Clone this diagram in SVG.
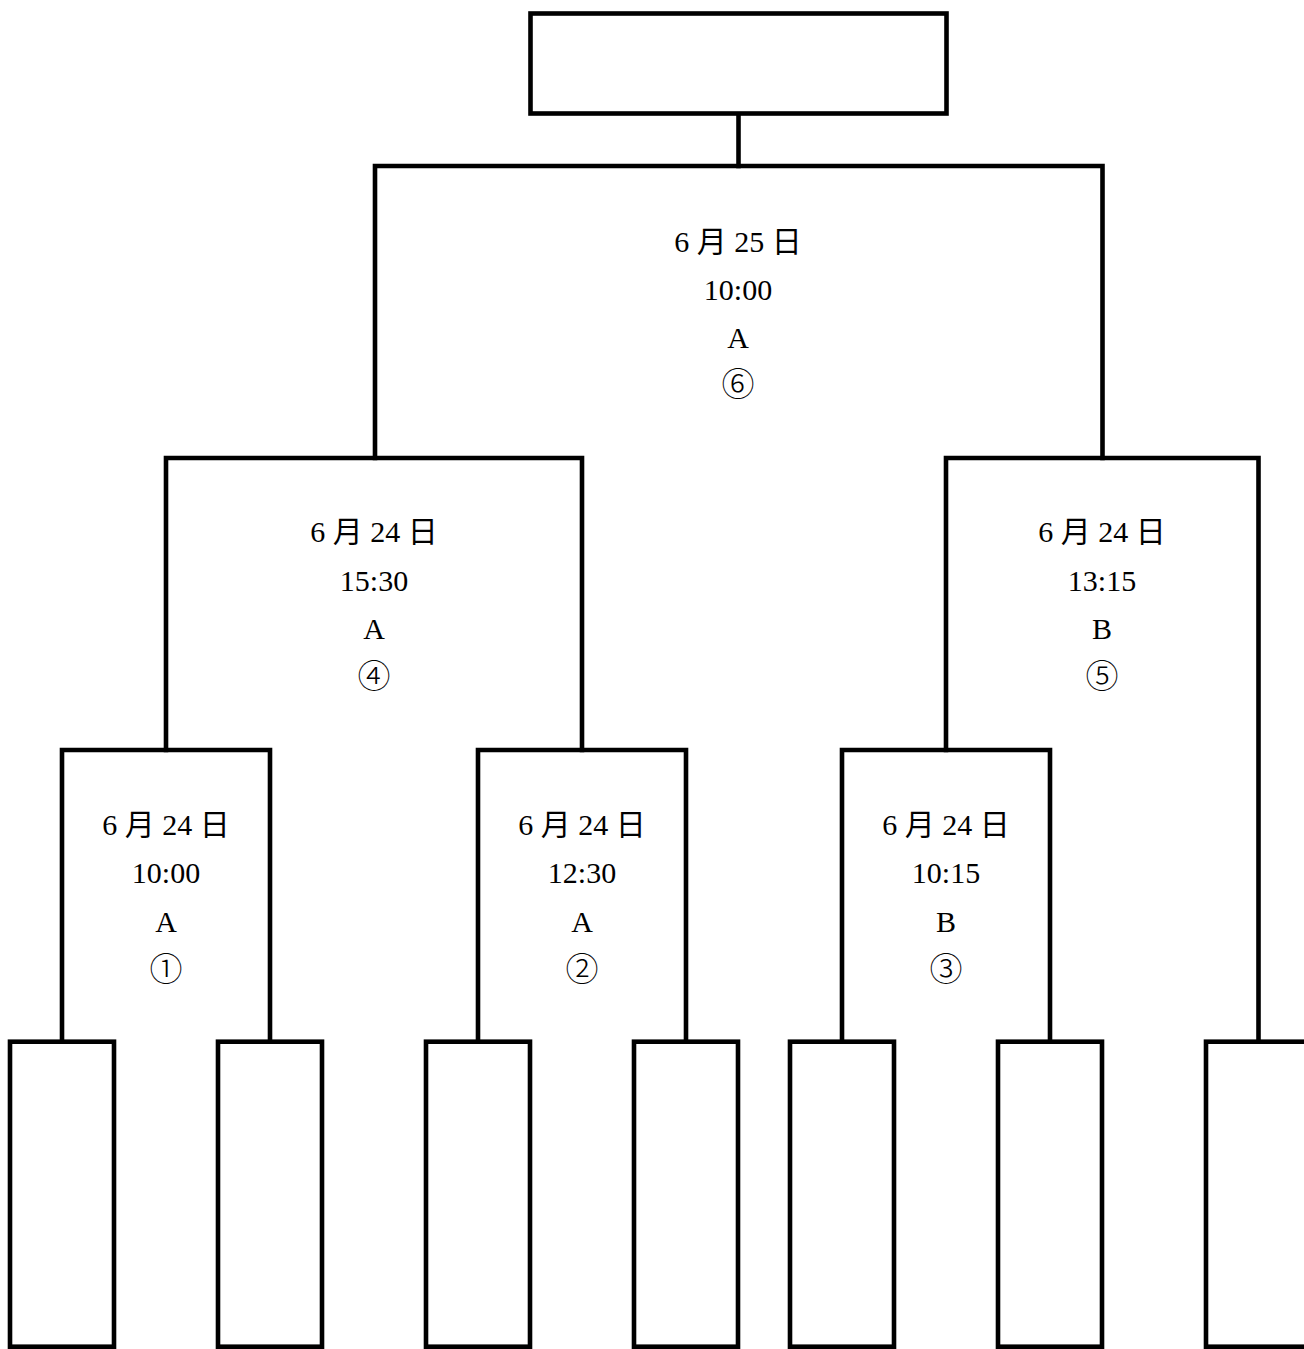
<svg xmlns="http://www.w3.org/2000/svg" width="1304" height="1349" viewBox="0 0 1304 1349">
<style>
.box{fill:#fff;stroke:#000;stroke-width:4.6}
.ln{fill:none;stroke:#000;stroke-width:4.6;stroke-linejoin:miter;stroke-linecap:square}
text{font-family:"Liberation Serif","Noto Sans CJK JP",serif;font-size:30px;fill:#000;text-anchor:middle}
.c{font-family:"Noto Sans CJK JP",serif;font-size:33px;font-weight:300}
</style>
<rect width="1304" height="1349" fill="#fff"/>
<g id="connectors">
<path class="ln" d="M738.5 113.5 V166"/>
<path class="ln" d="M375 458 V166 H1102.5 V458"/>
<path class="ln" d="M166 750 V458 H582 V750"/>
<path class="ln" d="M946 750 V458 H1258.5 V1041.7"/>
<path class="ln" d="M62 1041.7 V750 H270 V1041.7"/>
<path class="ln" d="M478 1041.7 V750 H686 V1041.7"/>
<path class="ln" d="M842 1041.7 V750 H1050 V1041.7"/>
</g>
<g id="final"><rect class="box" x="530.5" y="13.5" width="416" height="100"/></g>
<g id="m6"><text x="738" y="251.5">6 月 25 日</text><text x="738" y="299.5">10:00</text><text x="738" y="347.5">A</text><text class="c" x="738" y="396">⑥</text></g>
<g id="m4"><text x="374" y="542">6 月 24 日</text><text x="374" y="590.5">15:30</text><text x="374" y="639">A</text><text class="c" x="374" y="688">④</text></g>
<g id="m5"><text x="1102" y="542">6 月 24 日</text><text x="1102" y="590.5">13:15</text><text x="1102" y="639">B</text><text class="c" x="1102" y="688">⑤</text></g>
<g id="m1"><text x="166" y="835">6 月 24 日</text><text x="166" y="883.3">10:00</text><text x="166" y="931.5">A</text><text class="c" x="166" y="980.5">①</text></g>
<g id="m2"><text x="582" y="835">6 月 24 日</text><text x="582" y="883.3">12:30</text><text x="582" y="931.5">A</text><text class="c" x="582" y="980.5">②</text></g>
<g id="m3"><text x="946" y="835">6 月 24 日</text><text x="946" y="883.3">10:15</text><text x="946" y="931.5">B</text><text class="c" x="946" y="980.5">③</text></g>
<g id="team1"><rect class="box" x="10" y="1041.7" width="104" height="305"/></g>
<g id="team2"><rect class="box" x="218" y="1041.7" width="104" height="305"/></g>
<g id="team3"><rect class="box" x="426" y="1041.7" width="104" height="305"/></g>
<g id="team4"><rect class="box" x="634" y="1041.7" width="104" height="305"/></g>
<g id="team5"><rect class="box" x="790" y="1041.7" width="104" height="305"/></g>
<g id="team6"><rect class="box" x="998" y="1041.7" width="104" height="305"/></g>
<g id="team7"><rect class="box" x="1206" y="1041.7" width="104" height="305"/></g>
</svg>
